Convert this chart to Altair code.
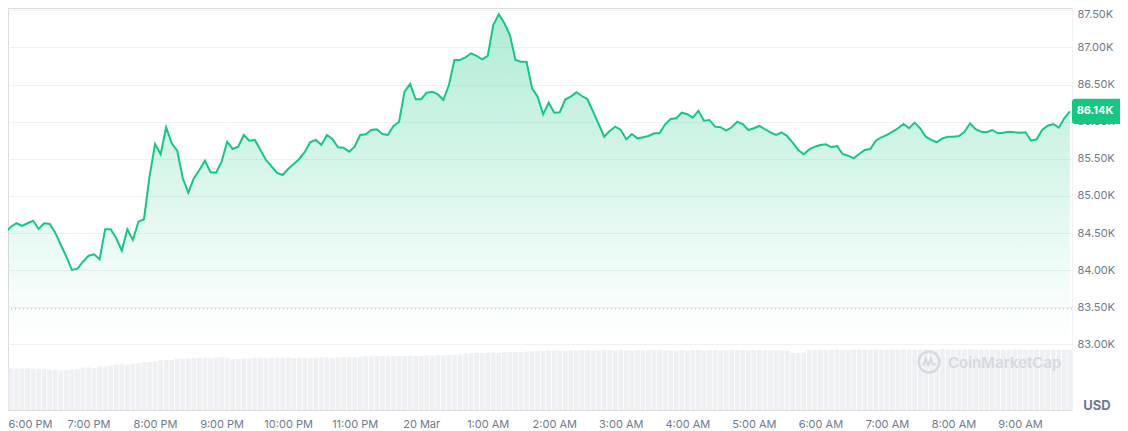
import altair as alt
import pandas as pd

# BTC price (USD), one reading every 5 minutes starting 19 Mar 5:40 PM
price = [
    84505, 84505, 84586, 84632, 84595, 84632, 84667, 84555, 84632, 84622,
    84505, 84339, 84182, 84003, 84020, 84114, 84195, 84214, 84147, 84551,
    84551, 84430, 84263, 84551, 84407, 84653, 84686, 85259, 85700, 85561,
    85925, 85709, 85609, 85238, 85044, 85238, 85350, 85475, 85319, 85313,
    85461, 85731, 85632, 85663, 85821, 85744, 85754, 85619, 85484, 85397,
    85309, 85282, 85363, 85430, 85498, 85592, 85727, 85754, 85686, 85821,
    85763, 85655, 85650, 85596, 85663, 85821, 85830, 85888, 85898, 85834,
    85821, 85942, 85996, 86404, 86508, 86302, 86302, 86391, 86404, 86369,
    86292, 86494, 86831, 86831, 86867, 86921, 86885, 86840, 86885, 87302,
    87446, 87325, 87168, 86831, 86808, 86808, 86450, 86337, 86100, 86256,
    86121, 86127, 86302, 86337, 86396, 86346, 86302, 86135, 85969, 85798,
    85875, 85933, 85888, 85763, 85834, 85776, 85790, 85807, 85844, 85844,
    85965, 86036, 86046, 86121, 86100, 86054, 86148, 86013, 86023, 85933,
    85925, 85879, 85925, 86000, 85969, 85888, 85911, 85942, 85898, 85857,
    85821, 85857, 85807, 85717, 85619, 85561, 85626, 85663, 85686, 85696,
    85655, 85673, 85565, 85542, 85507, 85565, 85619, 85632, 85744, 85790,
    85821, 85865, 85911, 85969, 85911, 85987, 85911, 85798, 85754, 85723,
    85776, 85798, 85798, 85807, 85865, 85978, 85898, 85865, 85857, 85888,
    85844, 85852, 85865, 85857, 85852, 85857, 85744, 85763, 85888, 85946,
    85969, 85919, 86046, 86140,
]

# 24h volume (billion USD), same 5-minute steps
volume = [
    20.6, 20.4, 20.7, 20.5, 20.6, 20.8, 20.5, 20.6, 20.4,
    19.9, 20.0, 19.7, 19.8, 20.1, 20.3,
    21.0, 21.2, 20.8,
    21.9, 21.6, 22.1,
    22.6, 22.8, 22.5, 22.9,
    23.4, 23.7, 23.9, 24.2,
    24.8, 25.0, 24.9,
    25.6, 25.4, 25.7, 25.6, 25.8, 25.9, 25.7,
    26.1, 26.2, 25.9,
    25.3, 25.4, 25.6, 25.5,
    25.9, 26.0, 25.8, 26.1, 25.9, 26.0, 26.2, 25.9, 26.0, 26.1,
    25.8, 26.0, 26.2, 26.1, 25.9, 26.0, 26.3, 26.1, 26.2,
    26.6, 26.8, 26.7, 26.9, 26.8, 26.7, 27.0, 26.9, 26.8, 27.1,
    26.9, 27.0, 27.2, 27.0, 27.3, 27.1, 27.4, 27.5, 27.6,
    28.0, 28.2, 28.4, 28.3, 28.5, 28.6, 28.4, 28.7, 28.9, 29.0,
    28.8, 29.1, 29.2, 29.3, 29.2, 29.4, 29.5,
    29.6, 29.5, 29.7, 29.6, 29.8, 29.7, 29.6,
    29.5, 29.7, 29.8, 29.6, 29.9, 29.7, 29.6,
    29.8, 29.5, 29.7, 29.9, 29.8, 29.6, 29.7,
    29.5, 29.8, 29.6, 29.7, 29.9, 29.6, 29.8,
    29.7, 29.5, 29.6, 29.8, 29.7, 29.9, 29.6,
    29.7, 29.8, 29.6, 29.5, 29.7, 29.6, 29.4,
    28.5, 28.3, 28.6,
    29.8, 29.9, 30.0, 29.8, 29.9, 30.1, 29.9, 29.8,
    30.0, 30.1, 29.9, 30.0, 30.2, 30.0, 29.9, 30.1,
    30.0, 30.2, 30.1, 29.9, 30.0, 30.2, 30.1, 30.0,
    30.3, 30.1, 30.0, 30.2, 30.1, 30.3, 30.0, 30.1,
    30.2, 30.0, 30.1, 29.9, 30.0, 30.2, 30.1, 29.9,
    30.0, 30.1, 30.0, 29.9, 30.1, 30.0, 29.9, 30.0,
]

start_time = "2025-03-19 17:40"
y_ticks = [83000, 83500, 84000, 84500, 85000, 85500, 86000, 86500, 87000, 87500]
x_tick_hours = [(19, 18), (19, 19), (19, 20), (19, 21), (19, 22), (19, 23),
                (20, 0), (20, 1), (20, 2), (20, 3), (20, 4), (20, 5),
                (20, 6), (20, 7), (20, 8), (20, 9)]
open_ref = [83480]
last_price = [86140]
last_label = ["86.14K"]

GREEN = "#16c784"
GRAY = "#707a8e"
GRID = "#eff2f5"
MARK = "#d5d9e0"

pdf = pd.DataFrame({
    "time": pd.date_range(start_time, periods=len(price), freq="5min"),
    "price": price,
})
vdf = pd.DataFrame({
    "time": pd.date_range(start_time, periods=len(volume), freq="5min"),
    "volume": volume,
})

x_scale = alt.Scale(domain=[
    alt.DateTime(year=2025, month=3, date=19, hours=17, minutes=47, seconds=22),
    alt.DateTime(year=2025, month=3, date=20, hours=9, minutes=46, seconds=55),
], padding=0, nice=False)
x_axis = alt.Axis(
    values=[alt.DateTime(year=2025, month=3, date=d, hours=h) for d, h in x_tick_hours],
    labelExpr="hours(datum.value) == 0 ? timeFormat(datum.value, '%d %b') : timeFormat(datum.value, '%-I:%M %p')",
    grid=False, domain=False, ticks=False, labelPadding=8,
    labelColor=GRAY, labelFontSize=11, labelFlush=20, labelFlushOffset=14,
    labelOverlap=False, title=None,
)
x_enc = alt.X("time:T", scale=x_scale, axis=x_axis, title=None)

y_scale = alt.Scale(domain=[82117, 87531], nice=False, zero=False)
y_axis = alt.Axis(
    orient="right", values=y_ticks,
    labelExpr="format(datum.value / 1000, '.2f') + 'K'",
    grid=True, gridColor=GRID, domain=True, domainColor=GRID,
    ticks=False, labelPadding=5, labelColor=GRAY, labelFontSize=11,
    labelAlign="left", labelFlush=4, labelFlushOffset=2, title=None,
)
y_enc = alt.Y("price:Q", scale=y_scale, axis=y_axis, title=None)

vol = alt.Chart(vdf).mark_bar(width=4.8, color="#eef0f4", clip=True).encode(
    x=x_enc,
    y=alt.Y("volume:Q", scale=alt.Scale(domain=[0, 200]), axis=None),
)

gradient = alt.Gradient(
    gradient="linear",
    stops=[
        alt.GradientStop(color="rgba(22,199,132,0.34)", offset=0),
        alt.GradientStop(color="rgba(22,199,132,0.16)", offset=0.5),
        alt.GradientStop(color="rgba(22,199,132,0.04)", offset=0.85),
        alt.GradientStop(color="rgba(22,199,132,0)", offset=1),
    ],
    x1=1, x2=1, y1=0, y2=1,
)

area = alt.Chart(pdf).mark_area(color=gradient, clip=True).encode(
    x=x_enc, y=y_enc, y2=alt.datum(83000),
)
line = alt.Chart(pdf).mark_line(color=GREEN, strokeWidth=2, clip=True).encode(
    x=x_enc, y=y_enc,
)

ref = alt.Chart(pd.DataFrame({"price": open_ref})).mark_rule(
    color="#aab1bd", strokeDash=[1, 3], strokeWidth=1
).encode(y=y_enc)

lab_df = pd.DataFrame({
    "price": last_price,
    "top": [p + 170 for p in last_price],
    "bot": [p - 170 for p in last_price],
    "label": last_label,
})
box = alt.Chart(lab_df).mark_rect(color=GREEN, cornerRadius=3).encode(
    x=alt.value(1064), x2=alt.value(1114),
    y=alt.Y("top:Q", scale=y_scale, axis=y_axis, title=None),
    y2="bot:Q",
)
box_text = alt.Chart(lab_df).mark_text(
    color="white", fontWeight="bold", fontSize=11, align="center", baseline="middle"
).encode(x=alt.value(1087), y=y_enc, text="label:N")

usd = alt.Chart(pd.DataFrame({"t": ["USD"]})).mark_text(
    color=GRAY, fontWeight="bold", fontSize=13, align="center", baseline="middle"
).encode(x=alt.value(1089), y=alt.value(398), text="t:N")

wm_df = pd.DataFrame({"t": ["CoinMarketCap"]})
wm_circle = alt.Chart(wm_df).mark_point(
    shape="circle", filled=False, size=430, strokeWidth=2.4, color=MARK, opacity=1
).encode(x=alt.value(921), y=alt.value(354))
wm_wave = alt.Chart(wm_df).mark_point(
    shape="M-0.55,0.4 L-0.32,-0.3 L-0.08,0.28 L0.16,-0.3 L0.34,0.18 Q0.45,0.38 0.62,0.12",
    filled=False, size=430, strokeWidth=2.2, color=MARK, opacity=1
).encode(x=alt.value(921), y=alt.value(354))
wm_text = alt.Chart(wm_df).mark_text(
    color=MARK, fontSize=15, fontWeight=600, align="left", baseline="middle"
).encode(x=alt.value(940), y=alt.value(355), text="t:N")

price_layers = alt.layer(area, ref, line, wm_circle, wm_wave, wm_text, box, box_text, usd)

chart = alt.layer(vol, price_layers).resolve_scale(y="independent").properties(
    width=1064, height=402,
    padding={"left": 0, "top": 0, "right": 48, "bottom": 21},
    autosize=alt.AutoSizeParams(type="none"),
).configure_view(stroke=None).configure(font="Inter")

chart.save("out.html", embed_options={"renderer": "svg", "actions": False})
